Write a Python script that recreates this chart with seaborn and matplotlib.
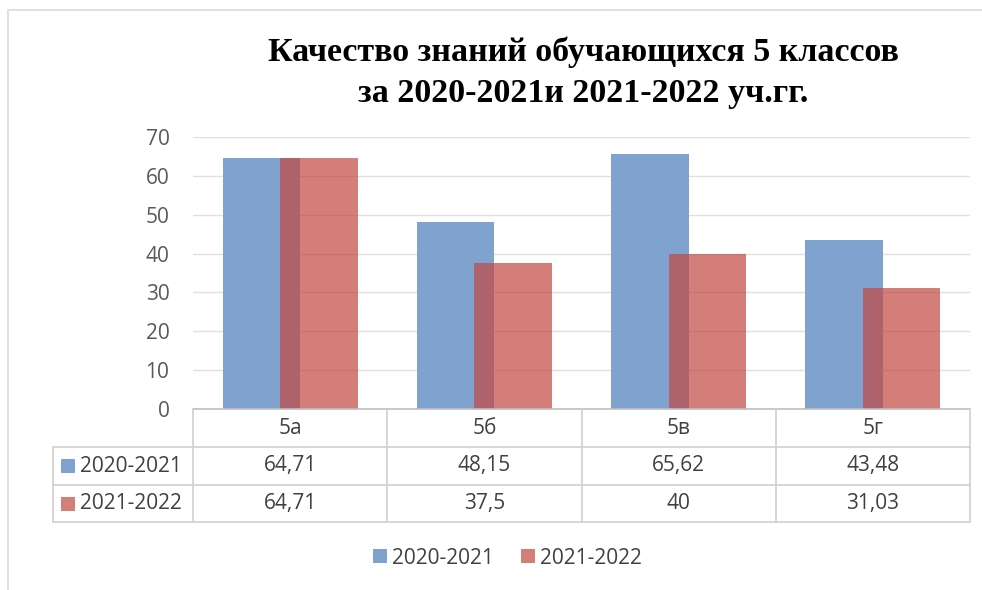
import numpy as np
import pandas as pd
import seaborn as sns
import matplotlib.pyplot as plt
from matplotlib.lines import Line2D
from matplotlib.patches import Patch, Rectangle
from matplotlib.transforms import blended_transform_factory

# ---- data ----
categories = ['5а', '5б', '5в', '5г']
series = ['2020-2021', '2021-2022']
values_2020 = [64.71, 48.15, 65.62, 43.48]
values_2021 = [64.71, 37.5, 40, 31.03]
yticks = [0, 10, 20, 30, 40, 50, 60, 70]
title_lines = ['Качество знаний обучающихся 5 классов', 'за 2020-2021и 2021-2022 уч.гг.']

BLUE = '#7FA2CF'
RED = (194 / 255, 71 / 255, 66 / 255)
RED_ALPHA = 0.7
GRID = '#E0E0E0'
TXT = '#404040'
FS = 15

sns.set_theme(style='white')
plt.rcParams['font.family'] = ['Open Sans', 'DejaVu Sans']

W, H = 982, 590
fig = plt.figure(figsize=(W / 100, H / 100), dpi=100)
fig.patch.set_facecolor('white')


def fx(px):
    return px / W


def fy(py):
    return 1 - py / H


ax = fig.add_axes([fx(193), fy(409), fx(970) - fx(193), fy(137) - fy(409)])

pos = np.arange(len(categories))
off = 0.148
sns.barplot(x=pos - off, y=values_2020, native_scale=True, width=0.40, color=BLUE,
            saturation=1, errorbar=None, linewidth=0, ax=ax)
sns.barplot(x=pos + off, y=values_2021, native_scale=True, width=0.40, color=RED,
            saturation=1, errorbar=None, linewidth=0, alpha=RED_ALPHA, ax=ax)

ax.set_xlim(-0.5, len(categories) - 0.5)
ax.set_ylim(0, 70)
ax.set_yticks(yticks)
ax.set_xticks([])
ax.set_xlabel('')
ax.set_ylabel('')
ax.yaxis.grid(True, color=GRID, linewidth=1)
ax.set_axisbelow(True)
for s in ['left', 'top', 'right']:
    ax.spines[s].set_visible(False)
ax.spines['bottom'].set_color('#BFBFBF')
ax.spines['bottom'].set_linewidth(1.2)
ax.tick_params(axis='y', length=0, pad=17, labelsize=FS, labelcolor='#595959')
ax.set_facecolor('white')

# ---- data table ----
tr = blended_transform_factory(ax.transData, fig.transFigure)
tcol = '#D0D0D0'
for py in [447, 485, 522]:
    fig.add_artist(Line2D([fx(53), fx(970)], [fy(py), fy(py)], color=tcol, lw=1.2,
                          transform=fig.transFigure))
for xb in np.arange(len(categories) + 1) - 0.5:
    fig.add_artist(Line2D([xb, xb], [fy(409), fy(522)], color=tcol, lw=1.2, transform=tr))
fig.add_artist(Line2D([fx(53), fx(53)], [fy(447), fy(522)], color=tcol, lw=1.2,
                      transform=fig.transFigure))


def fmt(v):
    return ('%g' % v).replace('.', ',')


for i, c in enumerate(categories):
    fig.text(i, fy(428), c, transform=tr, ha='center', va='center', fontsize=FS, color=TXT)
    fig.text(i, fy(466), fmt(values_2020[i]), transform=tr, ha='center', va='center',
             fontsize=FS, color=TXT)
    fig.text(i, fy(503.5), fmt(values_2021[i]), transform=tr, ha='center', va='center',
             fontsize=FS, color=TXT)

for ypx, name, col, a in [(466, series[0], BLUE, 1.0), (503.5, series[1], RED, RED_ALPHA)]:
    fig.add_artist(Rectangle((fx(61), fy(ypx + 7)), fx(14), 14 / H, facecolor=col, alpha=a,
                             edgecolor='none', transform=fig.transFigure))
    fig.text(fx(80), fy(ypx), name, ha='left', va='center', fontsize=FS, color=TXT)

# ---- legend ----
handles = [Patch(facecolor=BLUE, edgecolor='none'),
           Patch(facecolor=RED, alpha=RED_ALPHA, edgecolor='none')]
fig.legend(handles=handles, labels=series, loc='center', bbox_to_anchor=(fx(507.5), fy(558)),
           ncol=2, frameon=False, fontsize=FS, handlelength=0.67, handleheight=0.67,
           handletextpad=0.25, columnspacing=1.3, labelcolor=TXT)

# ---- title ----
for ypx, t in zip([52, 94], title_lines):
    fig.text(fx(583), fy(ypx), t, ha='center', va='center', fontsize=24.5, fontweight='bold',
             family=['Liberation Serif', 'DejaVu Serif'], color='black')

# ---- outer frame ----
fig.add_artist(Line2D([fx(8), fx(8)], [fy(10), 0], color=GRID, lw=1.5, transform=fig.transFigure))
fig.add_artist(Line2D([fx(8), 1], [fy(10), fy(10)], color=GRID, lw=1.5, transform=fig.transFigure))

fig.savefig('out.png', dpi=100)
